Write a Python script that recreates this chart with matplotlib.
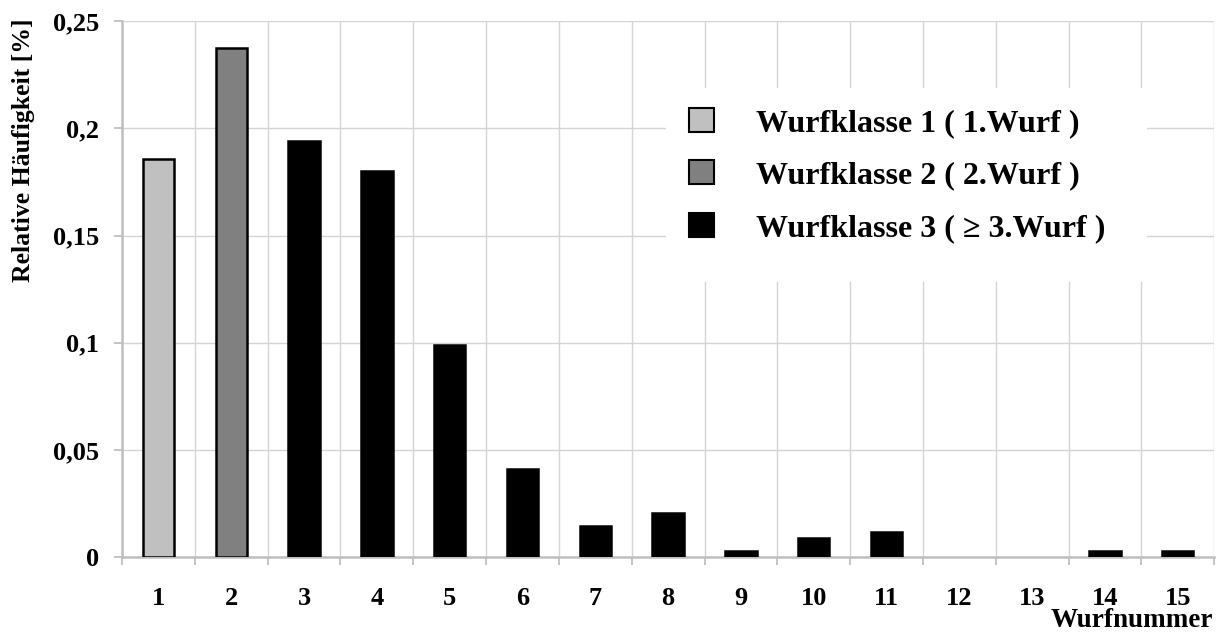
"""Relative Haeufigkeit der Wurfnummern, eingeteilt in Wurfklassen"""

import matplotlib
matplotlib.use('Agg')
import matplotlib.pyplot as plt
from matplotlib.patches import Patch, Rectangle
from matplotlib.ticker import FixedLocator, FuncFormatter
import numpy as np

# data
wurfnummer = list(range(1, 16))
haeufigkeit = [0.1855, 0.2376, 0.1943, 0.1800, 0.0989, 0.0410, 0.0147, 0.0205,
               0.0030, 0.0088, 0.0118, 0.0, 0.0, 0.0030, 0.0030]
wurfklasse = [1, 2, 3, 3, 3, 3, 3, 3, 3, 3, 3, 3, 3, 3, 3]
klassen_labels = ['Wurfklasse 1 ( 1.Wurf )', 'Wurfklasse 2 ( 2.Wurf )',
                  'Wurfklasse 3 ( \u2265 3.Wurf )']
klassen_farben = {1: '#c0c0c0', 2: '#808080', 3: '#000000'}

plt.rcParams['font.family'] = ['Liberation Serif', 'DejaVu Serif']
plt.rcParams['font.weight'] = 'bold'
plt.rcParams['axes.labelweight'] = 'bold'

fig = plt.figure(figsize=(12.24, 6.39), dpi=100)
ax = fig.add_axes([0.0997, 0.128, 0.8923, 0.839])

x = np.array(wurfnummer)
colors = [klassen_farben[k] for k in wurfklasse]
edges = ['black' if v > 0 else 'none' for v in haeufigkeit]
ax.bar(x, haeufigkeit, width=0.43, color=colors, edgecolor=edges,
       linewidth=1.8, zorder=3)

ax.set_xlim(0.5, 15.5)
ax.set_ylim(0, 0.25)

# grid on category borders, labels at centers
ax.set_xticks(x)
ax.set_xticklabels([str(i) for i in wurfnummer])
ax.xaxis.set_minor_locator(FixedLocator(np.arange(0.5, 16, 1)))
ax.set_yticks([0, 0.05, 0.1, 0.15, 0.2, 0.25])
ax.yaxis.set_major_formatter(FuncFormatter(
    lambda v, p: '0' if v == 0 else ('%g' % v).replace('.', ',')))

ax.tick_params(axis='x', which='major', length=0, pad=21.5, labelsize=19)
ax.tick_params(axis='x', which='minor', length=6, color='#bfbfbf', width=1.3)
ax.tick_params(axis='y', which='major', length=6, color='#bfbfbf', width=1.3,
               pad=10.5, labelsize=19)

ax.grid(True, axis='x', which='minor', color='#d4d4d4', linewidth=1.0, zorder=0)
ax.grid(True, axis='y', which='major', color='#d4d4d4', linewidth=1.0, zorder=0)
ax.set_axisbelow(True)

for side in ['top', 'right']:
    ax.spines[side].set_visible(False)
for side in ['left', 'bottom']:
    ax.spines[side].set_color('#bfbfbf')
    ax.spines[side].set_linewidth(1.8)

ax.set_ylabel('Relative Häufigkeit [%]', fontsize=18.5)
ax.yaxis.set_label_coords(-0.0797, 0.76)
ax.set_xlabel('Wurfnummer', fontsize=19.5)
ax.xaxis.set_label_coords(0.999, -0.1306)
ax.xaxis.label.set_horizontalalignment('right')
ax.xaxis.label.set_verticalalignment('baseline')

# white legend area covering the grid
ax.add_patch(Rectangle((0.498, 0.513), 0.4406, 0.362, transform=ax.transAxes,
                       facecolor='white', edgecolor='none', zorder=4))

handles = [Patch(facecolor=klassen_farben[k], edgecolor='black', linewidth=1.5)
           for k in (1, 2, 3)]
leg = ax.legend(handles, klassen_labels, loc='upper left',
                bbox_to_anchor=(0.519, 0.838), fontsize=23, frameon=False,
                handlelength=0.8, handleheight=0.78, handletextpad=1.3,
                labelspacing=0.7, borderpad=0, borderaxespad=0)
leg.set_zorder(5)

fig.savefig('out.png', dpi=100)
